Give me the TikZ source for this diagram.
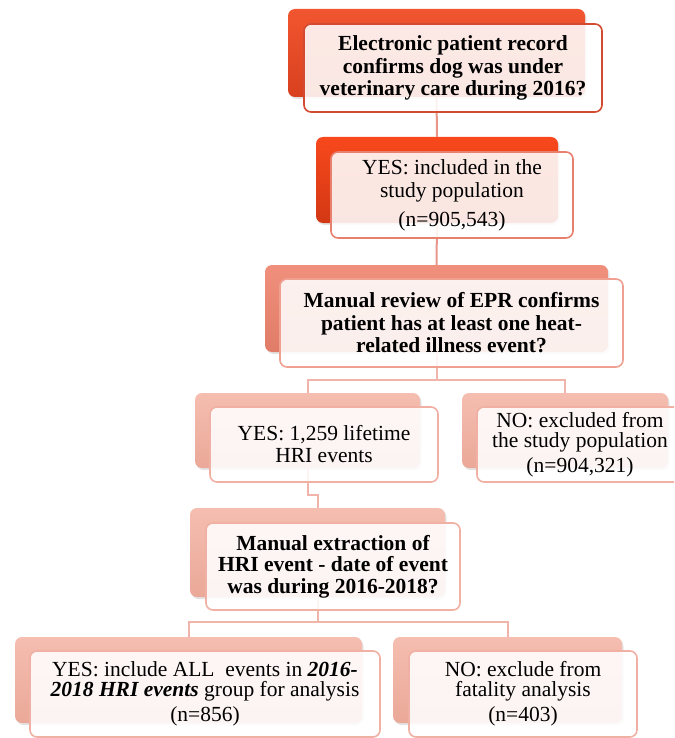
\documentclass[tikz,border=0pt]{standalone}
\usepackage{fontspec}
\setmainfont{Liberation Serif}
\usetikzlibrary{shadows}
\definecolor{bkAtop}{HTML}{F25630}
\definecolor{bkAbot}{HTML}{D8401E}
\definecolor{bkBtop}{HTML}{F8481C}
\definecolor{bkBbot}{HTML}{D23814}
\definecolor{bkCtop}{HTML}{F0907C}
\definecolor{bkCbot}{HTML}{E07C68}
\definecolor{bkDtop}{HTML}{F5BEB0}
\definecolor{bkDbot}{HTML}{EAA898}
\definecolor{frA}{HTML}{D24A30}
\definecolor{frB}{HTML}{E8806E}
\definecolor{frC}{HTML}{EFA090}
\definecolor{frD}{HTML}{F0B0A4}
\definecolor{cnU}{HTML}{E8968A}
\definecolor{cnL}{HTML}{F0B4AA}
\tikzset{
  backbox/.style={rounded corners=7pt, inner sep=0pt,
    drop shadow={opacity=0.22, shadow xshift=1.5pt, shadow yshift=-2pt}},
  frontbox/.style={rounded corners=7pt, fill=white, fill opacity=0.88,
    text opacity=1, line width=1.6pt, inner sep=0pt, align=center,
    font=\fontsize{21.5}{22.5}\selectfont},
  conn/.style={line width=2pt}
}
\begin{document}
\begin{tikzpicture}[x=1pt,y=-1pt]
\useasboundingbox (0,0) rectangle (674,738);
\clip (0,0) rectangle (674,738);
% back boxes
\node[backbox, top color=bkAtop, bottom color=bkAbot, minimum width=297, minimum height=88] (k1) at (436.5,53) {};
\node[backbox, top color=bkBtop, bottom color=bkBbot, minimum width=242, minimum height=86] (k2) at (437,180) {};
\node[backbox, top color=bkCtop, bottom color=bkCbot, minimum width=343, minimum height=87] (k3) at (436.5,308.5) {};
\node[backbox, top color=bkDtop, bottom color=bkDbot, minimum width=225, minimum height=75] (k4) at (307.5,430.5) {};
\node[backbox, top color=bkDtop, bottom color=bkDbot, minimum width=206, minimum height=75] (k5) at (565,430.5) {};
\node[backbox, top color=bkDtop, bottom color=bkDbot, minimum width=255, minimum height=89] (k6) at (317.5,552.5) {};
\node[backbox, top color=bkDtop, bottom color=bkDbot, minimum width=347, minimum height=86] (k7) at (188.5,680) {};
\node[backbox, top color=bkDtop, bottom color=bkDbot, minimum width=229, minimum height=86] (k8) at (507.5,680) {};
% connectors
\coordinate (j3) at (436.5,380);
\coordinate (j4) at (317.5,495);
\coordinate (j6) at (317.5,622);
\draw[conn, draw=cnU] (k1.south) -- (k2.north);
\draw[conn, draw=cnU] (k2.south) -- (k3.north);
\draw[conn, draw=cnL] (k3.south) -- (j3);
\draw[conn, draw=cnL] (k4.north) |- (j3) -| (k5.north);
\draw[conn, draw=cnL] (k4.south) |- (j4) -- (k6.north);
\draw[conn, draw=cnL] (k6.south) -- (j6);
\draw[conn, draw=cnL] (k7.north) |- (j6) -| (k8.north);
% front boxes
\node[frontbox, draw=frA, minimum width=298, minimum height=88] (n1) at (453,68)
  {\bfseries Electronic patient record\\\bfseries confirms dog was under\\\bfseries veterinary care during 2016?};
\node[frontbox, draw=frB, minimum width=242, minimum height=86, font=\fontsize{21.5}{23}\selectfont] (n2) at (452,195)
  {YES: included in the\\study population\\[6pt](n=905,543)};
\node[frontbox, draw=frC, minimum width=343, minimum height=88] (n3) at (451.5,323)
  {\bfseries Manual review of EPR confirms\\\bfseries patient has at least one heat-\\\bfseries related illness event?};
\node[frontbox, draw=frD, minimum width=228, minimum height=75, font=\fontsize{21.5}{22}\selectfont] (n4) at (324,444.5)
  {YES: 1,259 lifetime\\HRI events};
\node[frontbox, draw=frD, minimum width=206, minimum height=75, font=\fontsize{21.5}{20}\selectfont] (n5) at (580,444.5)
  {NO: excluded from\\the study population\\[5pt](n=904,321)};
\node[frontbox, draw=frD, minimum width=254, minimum height=87, font=\fontsize{21.5}{21.5}\selectfont] (n6) at (333,566.5)
  {\bfseries Manual extraction of\\\bfseries HRI event - date of event\\\bfseries was during 2016-2018?};
\node[frontbox, draw=frD, minimum width=350, minimum height=86, font=\fontsize{21.5}{20}\selectfont] (n7) at (205,694)
  {YES: include ALL\ \ events in \textbf{\itshape 2016-}\\\textbf{\itshape 2018 HRI events} group for analysis\\[5pt](n=856)};
\node[frontbox, draw=frD, minimum width=228, minimum height=86, font=\fontsize{21.5}{20}\selectfont] (n8) at (523,694)
  {NO: exclude from\\fatality analysis\\[5pt](n=403)};
\end{tikzpicture}
\end{document}
